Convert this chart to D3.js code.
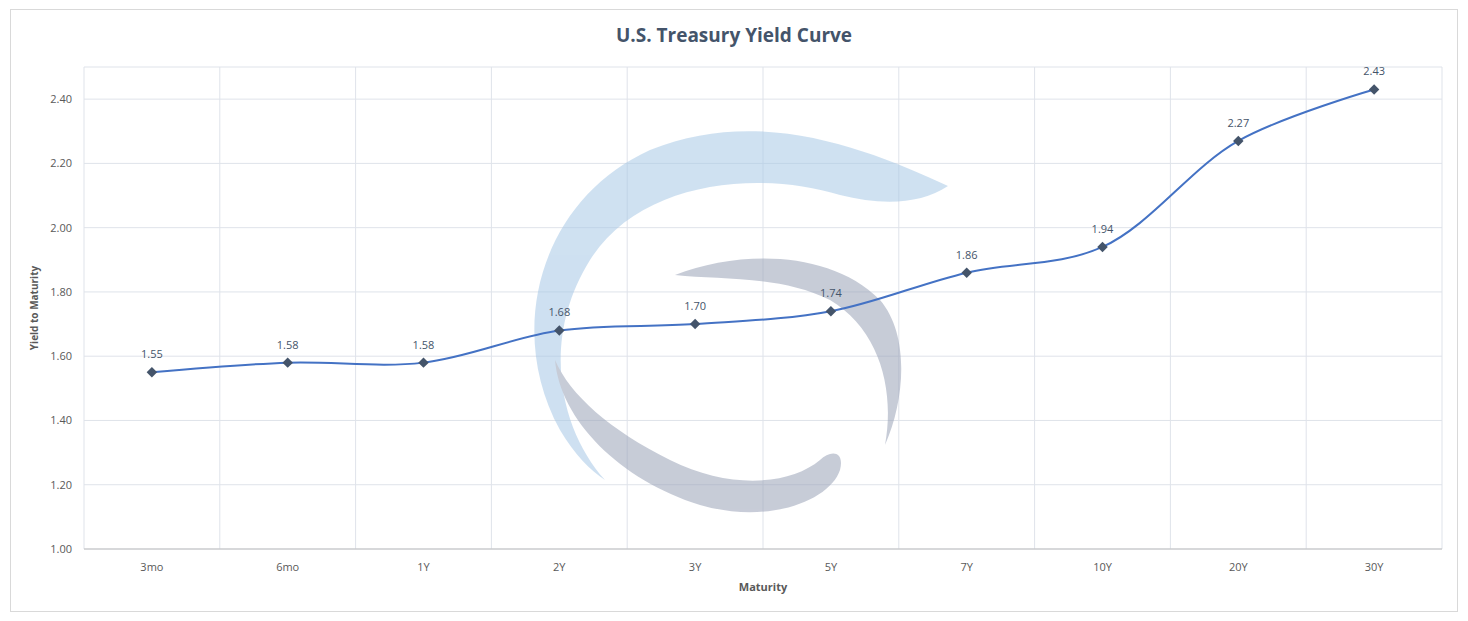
<!DOCTYPE html>
<html><head><meta charset="utf-8">
<script src="https://cdn.jsdelivr.net/npm/d3@7"></script>
<style>body{margin:0;background:#fff;font-family:"Open Sans",sans-serif}</style>
</head><body>
<svg id="chart" width="1468" height="621"></svg>
<script>
// yield curve data
var maturities = ["3mo","6mo","1Y","2Y","3Y","5Y","7Y","10Y","20Y","30Y"];
var yields = [1.55,1.58,1.58,1.68,1.70,1.74,1.86,1.94,2.27,2.43];
var yTicks = [1.00,1.20,1.40,1.60,1.80,2.00,2.20,2.40];

var svg = d3.select("#chart");
var plotL = 84, plotR = 1442, plotT = 67, plotB = 549;

svg.append("rect").attr("x",10.5).attr("y",9.5).attr("width",1447).attr("height",602)
  .attr("fill","#fff").attr("stroke","#d9d9d9");

var x = d3.scaleBand().domain(maturities).range([plotL,plotR]);
var y = d3.scaleLinear().domain([1.0,2.5]).range([plotB,plotT]);

// gridlines
svg.append("g").selectAll("line").data(yTicks.concat([2.5])).join("line")
  .attr("x1",plotL).attr("x2",plotR).attr("y1",d=>y(d)).attr("y2",d=>y(d))
  .attr("stroke","#dfe3ea");
svg.append("g").selectAll("line").data(d3.range(maturities.length+1)).join("line")
  .attr("x1",i=>plotL+i*x.bandwidth()).attr("x2",i=>plotL+i*x.bandwidth())
  .attr("y1",plotT).attr("y2",plotB).attr("stroke","#dfe3ea");

// watermark logo
var wm = svg.append("g").attr("opacity",0.55);
wm.append("path").attr("fill","#a7c8e6")
  .attr("d","M948,186 C870,150 760,105 650,150 C540,200 505,330 560,430 C575,455 590,470 605,480 C560,430 540,340 590,260 C640,180 760,170 840,195 C880,205 920,205 948,186 Z");
wm.append("path").attr("fill","#9aa3b8")
  .attr("d","M675,275 C740,250 830,250 880,300 C910,335 905,400 885,445 C895,390 880,330 830,300 C780,275 720,280 675,275 Z");
wm.append("path").attr("fill","#9aa3b8")
  .attr("d","M555,360 C560,420 620,480 700,505 C770,525 830,500 840,470 C845,450 830,450 820,460 C790,485 730,490 670,460 C610,430 570,395 555,360 Z");

// axes
svg.append("line").attr("x1",plotL).attr("x2",plotR).attr("y1",plotB).attr("y2",plotB).attr("stroke","#bfbfbf");
svg.append("g").selectAll("text").data(yTicks).join("text")
  .attr("x",plotL-12).attr("y",d=>y(d)+4).attr("text-anchor","end")
  .attr("font-size",11).attr("fill","#595959").text(d=>d.toFixed(2));
svg.append("g").selectAll("text").data(maturities).join("text")
  .attr("x",d=>x(d)+x.bandwidth()/2).attr("y",plotB+22).attr("text-anchor","middle")
  .attr("font-size",11).attr("fill","#595959").text(d=>d);

svg.append("text").attr("x",(plotL+plotR)/2).attr("y",591).attr("text-anchor","middle")
  .attr("font-size",11).attr("font-weight","bold").attr("fill","#595959").text("Maturity");
svg.append("text").attr("transform","translate(38,"+((plotT+plotB)/2)+") rotate(-90)")
  .attr("text-anchor","middle").attr("font-size",10).attr("font-weight","bold")
  .attr("fill","#595959").text("Yield to Maturity");
svg.append("text").attr("x",734).attr("y",42).attr("text-anchor","middle")
  .attr("font-size",19).attr("font-weight","bold").attr("fill","#44546a").text("U.S. Treasury Yield Curve");

// line
var pts = maturities.map((m,i)=>[x(m)+x.bandwidth()/2, y(yields[i])]);
svg.append("path").datum(pts).attr("fill","none").attr("stroke","#4472c4").attr("stroke-width",2)
  .attr("d",d3.line().curve(d3.curveCatmullRom.alpha(0.5)));
svg.append("g").selectAll("path").data(pts).join("path")
  .attr("transform",d=>"translate("+d[0]+","+d[1]+")")
  .attr("d",d3.symbol(d3.symbolDiamond2,70)).attr("fill","#44546a");
svg.append("g").selectAll("text").data(pts).join("text")
  .attr("x",d=>d[0]).attr("y",d=>d[1]-14).attr("text-anchor","middle")
  .attr("font-size",11).attr("fill","#44546a").text((d,i)=>yields[i].toFixed(2));
</script>
</body></html>
